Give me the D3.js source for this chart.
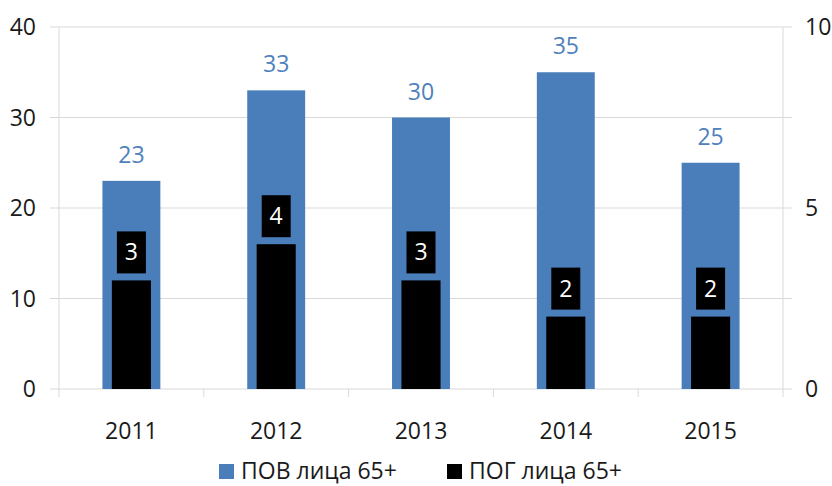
<!DOCTYPE html>
<html><head><meta charset="utf-8">
<script src="https://cdn.jsdelivr.net/npm/d3@7"></script>
<style>body{margin:0;background:#fff}svg{display:block}text{font-family:"Open Sans",sans-serif}</style>
</head><body><div id="chart"></div>
<script>
const years = ["2011","2012","2013","2014","2015"];
const povValues = [23,33,30,35,25];
const pogValues = [3,4,3,2,2];
const leftTicks = [0,10,20,30,40];
const rightTicks = [0,5,10];
const seriesNames = ["ПОВ лица 65+","ПОГ лица 65+"];

const W=832,H=486;
const m={l:59,r:49,t:27,b:97};
const blue="#4A7EBB", labelBlue="#4F81BD", txt="#1a1a1a", grid="#D9D9D9";
const svg=d3.select("#chart").append("svg").attr("width",W).attr("height",H);
const x=d3.scaleBand().domain(years).range([m.l,W-m.r]);
const yL=d3.scaleLinear().domain([0,40]).range([H-m.b,m.t]);
const yR=d3.scaleLinear().domain([0,10]).range([H-m.b,m.t]);
const fs=23;

// gridlines
svg.append("g").selectAll("line").data(leftTicks).join("line")
  .attr("x1",m.l-9).attr("x2",W-m.r+9).attr("y1",d=>yL(d)).attr("y2",d=>yL(d))
  .attr("stroke",grid).attr("stroke-width",1);
// axis verticals
[m.l,W-m.r].forEach(xx=>svg.append("line").attr("x1",xx).attr("x2",xx).attr("y1",m.t).attr("y2",H-m.b+8).attr("stroke",grid));
// category ticks
svg.append("g").selectAll("line").data(years.slice(1)).join("line")
  .attr("x1",d=>x(d)).attr("x2",d=>x(d)).attr("y1",H-m.b).attr("y2",H-m.b+8).attr("stroke",grid);

// left tick labels
svg.append("g").selectAll("text").data(leftTicks).join("text")
  .attr("x",36).attr("y",d=>yL(d)).attr("dy","0.35em").attr("text-anchor","end")
  .attr("font-size",fs).attr("fill",txt).text(d=>d);
svg.append("g").selectAll("text").data(rightTicks).join("text")
  .attr("x",805).attr("y",d=>yR(d)).attr("dy","0.35em").attr("text-anchor","start")
  .attr("font-size",fs).attr("fill",txt).text(d=>d);
// x labels
svg.append("g").selectAll("text").data(years).join("text")
  .attr("x",d=>x(d)+x.bandwidth()/2).attr("y",439).attr("text-anchor","middle")
  .attr("font-size",fs).attr("fill",txt).text(d=>d);

const bw=x.bandwidth();
const bwBlue=bw*0.4, bwBlack=bw*0.27;
// blue bars
svg.append("g").selectAll("rect").data(povValues).join("rect")
  .attr("x",(d,i)=>x(years[i])+bw/2-bwBlue/2).attr("width",bwBlue)
  .attr("y",d=>yL(d)).attr("height",d=>yL(0)-yL(d)).attr("fill",blue);
svg.append("g").selectAll("text").data(povValues).join("text")
  .attr("x",(d,i)=>x(years[i])+bw/2).attr("y",d=>yL(d)-18).attr("text-anchor","middle")
  .attr("font-size",fs).attr("fill",labelBlue).text(d=>d);
// black bars
svg.append("g").selectAll("rect").data(pogValues).join("rect")
  .attr("x",(d,i)=>x(years[i])+bw/2-bwBlack/2).attr("width",bwBlack)
  .attr("y",d=>yR(d)).attr("height",d=>yR(0)-yR(d)).attr("fill","#000");
// black labels with boxes
const lg=svg.append("g").selectAll("g").data(pogValues).join("g")
  .attr("transform",(d,i)=>`translate(${x(years[i])+bw/2},${yR(d)-7})`);
lg.append("rect").attr("x",-14.5).attr("y",-42).attr("width",29).attr("height",42).attr("fill","#000");
lg.append("text").attr("x",0).attr("y",-21).attr("dy","0.35em").attr("text-anchor","middle")
  .attr("font-size",fs).attr("fill","#fff").text(d=>d);

// legend
const leg=[{x:219,c:blue,t:seriesNames[0]},{x:447,c:"#000",t:seriesNames[1]}];
leg.forEach(l=>{
  svg.append("rect").attr("x",l.x).attr("y",464).attr("width",15).attr("height",15).attr("fill",l.c);
  svg.append("text").attr("x",l.x+22).attr("y",479).attr("font-size",fs).attr("fill",txt).text(l.t);
});
</script></body></html>
